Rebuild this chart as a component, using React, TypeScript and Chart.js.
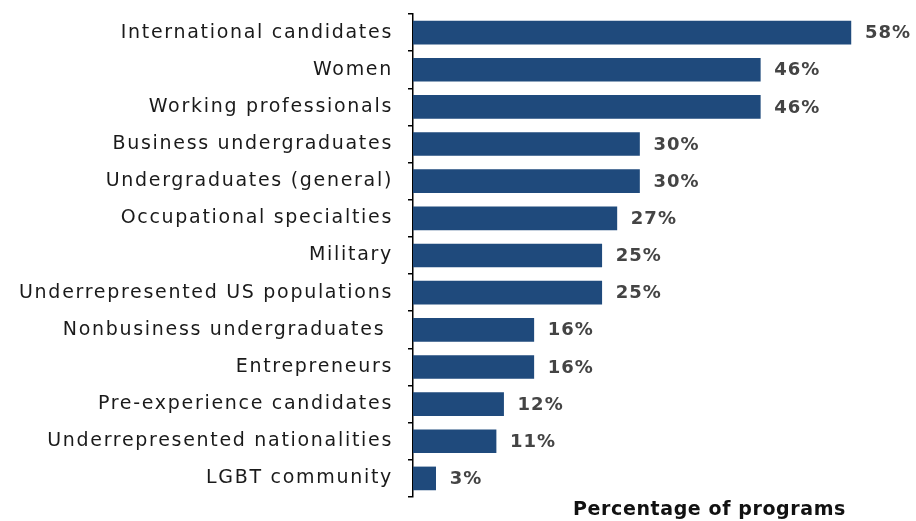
import React, { useEffect, useRef } from "react";
import { Chart, registerables } from "chart.js";

Chart.register(...registerables);

const categories = [
  "International candidates",
  "Women",
  "Working professionals",
  "Business undergraduates",
  "Undergraduates (general)",
  "Occupational specialties",
  "Military",
  "Underrepresented US populations",
  "Nonbusiness undergraduates ",
  "Entrepreneurs",
  "Pre-experience candidates",
  "Underrepresented nationalities",
  "LGBT community",
];
const values = [58, 46, 46, 30, 30, 27, 25, 25, 16, 16, 12, 11, 3];
const valueLabels = ["58%", "46%", "46%", "30%", "30%", "27%", "25%", "25%", "16%", "16%", "12%", "11%", "3%"];
const axisTitle = "Percentage of programs";

const FONT = "'DejaVu Sans', sans-serif";

const spacingPlugin = {
  id: "spacing",
  beforeDraw(chart: any) {
    chart.ctx.letterSpacing = "1.7px";
  },
  afterDraw(chart: any) {
    chart.ctx.letterSpacing = "0px";
  },
};

const labelPlugin = {
  id: "valueLabels",
  afterDatasetsDraw(chart: any) {
    const ctx = chart.ctx;
    const meta = chart.getDatasetMeta(0);
    ctx.save();
    ctx.letterSpacing = "1px";
    ctx.font = `bold 18px ${FONT}`;
    ctx.fillStyle = "#444444";
    ctx.textAlign = "left";
    ctx.textBaseline = "middle";
    meta.data.forEach((bar: any, i: number) => {
      ctx.fillText(valueLabels[i], bar.x + 14, bar.y + 1);
    });
    ctx.restore();
  },
};

const titlePlugin = {
  id: "axisTitle",
  afterDraw(chart: any) {
    const ctx = chart.ctx;
    const area = chart.chartArea;
    ctx.save();
    ctx.letterSpacing = "0.6px";
    ctx.font = `bold 19px ${FONT}`;
    ctx.fillStyle = "#111111";
    ctx.textAlign = "right";
    ctx.textBaseline = "middle";
    ctx.fillText(axisTitle, area.right - 20, area.bottom + 13);
    ctx.restore();
  },
};

export default function App() {
  const ref = useRef<HTMLCanvasElement>(null);
  useEffect(() => {
    if (!ref.current) return;
    const chart = new Chart(ref.current, {
      type: "bar",
      data: {
        labels: categories,
        datasets: [
          {
            data: values,
            backgroundColor: "#1f4a7c",
            barThickness: 23,
          },
        ],
      },
      options: {
        indexAxis: "y",
        animation: false,
        responsive: true,
        maintainAspectRatio: false,
        layout: { padding: { top: 14, bottom: 24, right: 50, left: 0 } },
        plugins: { legend: { display: false }, tooltip: { enabled: false } },
        scales: {
          x: {
            display: false,
            min: 0,
            max: 60,
          },
          y: {
            afterFit: (scale: any) => {
              scale.width = 413;
              scale.paddingTop = 0;
              scale.paddingBottom = 0;
            },
            border: { display: true, color: "#000000", width: 1.5 },
            grid: {
              offset: true,
              drawOnChartArea: false,
              drawTicks: true,
              tickLength: 5,
              color: "#000000",
              lineWidth: 1.5,
            },
            ticks: {
              color: "#1a1a1a",
              font: { family: FONT, size: 19 },
              padding: 15,
            },
          },
        },
      },
      plugins: [spacingPlugin, labelPlugin, titlePlugin],
    });
    return () => chart.destroy();
  }, []);
  return (
    <div style={{ position: "fixed", left: 0, top: 0, width: 916, height: 521, background: "#fff" }}>
      <canvas ref={ref} />
    </div>
  );
}
